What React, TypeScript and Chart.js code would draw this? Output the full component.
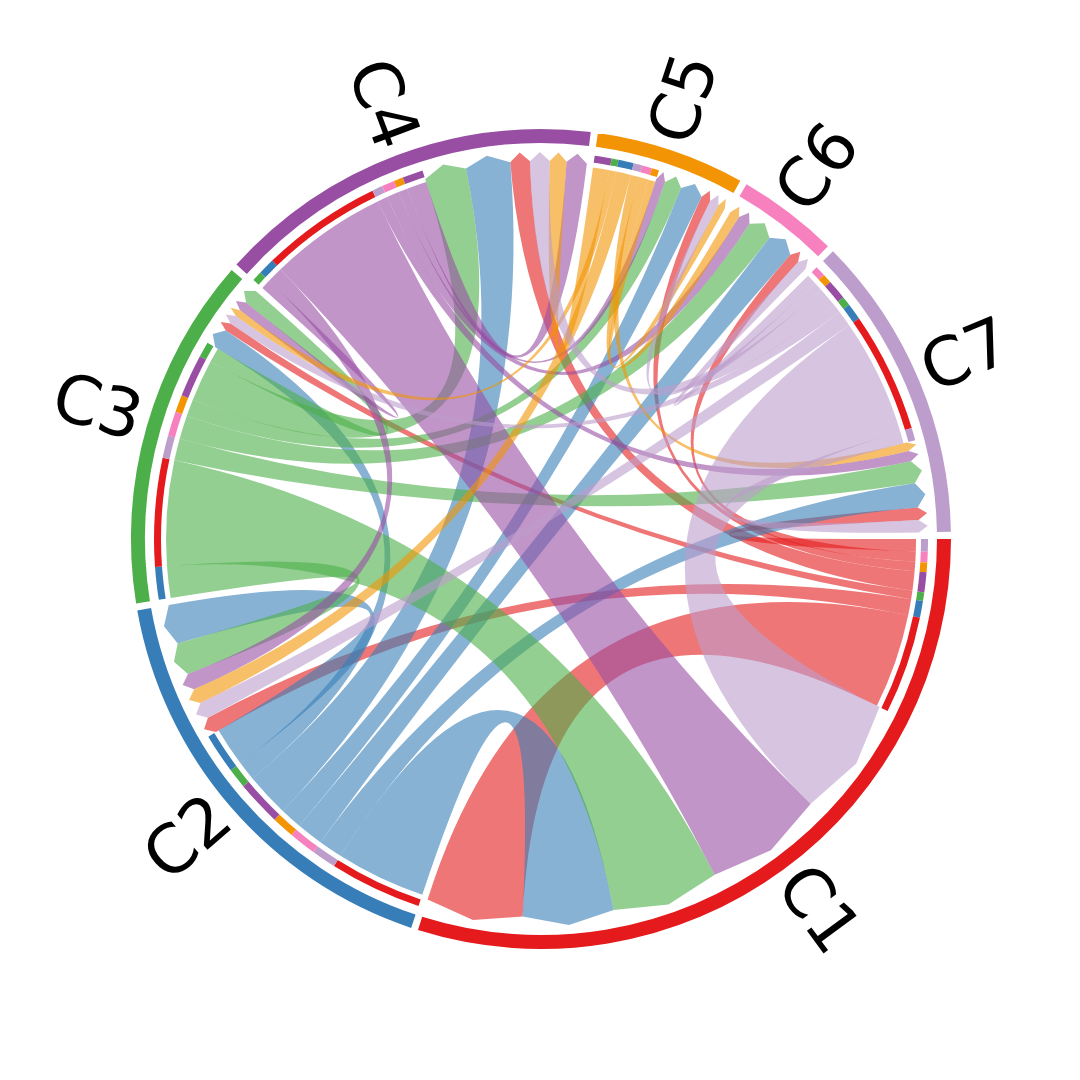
import { useEffect, useRef } from "react";
import { Chart, registerables } from "chart.js";

Chart.register(...registerables);

// ---- data ----
const sectors = ["C1", "C2", "C3", "C4", "C5", "C6", "C7"];
const sectorColors = ["#E41A1C", "#377EB8", "#4DAF4A", "#984EA3", "#F29403", "#F781BF", "#BC9DCC"];

// interaction strength, sender (row) -> receiver (columns C1..C7)
const fromC1 = [14.7, 2.5, 1.3, 3.0, 1.45, 1.6, 1.9];
const fromC2 = [13.9, 6.0, 3.0, 6.8, 3.4, 4.1, 3.7];
const fromC3 = [16.3, 4.9, 2.3, 6.4, 2.6, 3.7, 3.4];
const fromC4 = [18.2, 2.5, 1.5, 3.1, 1.4, 1.9, 1.6];
const fromC5 = [0, 2.3, 1.05, 2.55, 1.1, 1.5, 1.3];
const fromC6 = [0, 0, 0, 0, 0, 0, 0];
const fromC7 = [18.1, 2.5, 1.4, 3.0, 1.4, 1.56, 1.9];
const flows = [fromC1, fromC2, fromC3, fromC4, fromC5, fromC6, fromC7];

const GAP_DEG = 1;
const LINK_ALPHA = 0.6;

// ---- derived tables ----
const n = sectors.length;
const order = (i: number) => Array.from({ length: n }, (_, k) => (i - 1 - k + 2 * n) % n);
const rowSum = flows.map((r) => r.reduce((a, b) => a + b, 0));
const colSum = sectors.map((_, j) => flows.reduce((a, r) => a + r[j], 0));
const sectorTotal = rowSum.map((r, i) => r + colSum[i]);
const grand = sectorTotal.reduce((a, b) => a + b, 0);
const gapValue = (grand * GAP_DEG) / (360 - n * GAP_DEG);
const CLEAR = "rgba(0,0,0,0)";

const ringData: number[] = [];
const ringColors: string[] = [];
const endData: number[] = [];
const endColors: string[] = [];
const outIdx: number[][] = sectors.map(() => new Array(n).fill(-1));
const inIdx: number[][] = sectors.map(() => new Array(n).fill(-1));

for (let i = 0; i < n; i++) {
  ringData.push(sectorTotal[i]);
  ringColors.push(sectorColors[i]);
  ringData.push(gapValue);
  ringColors.push(CLEAR);
  for (const j of order(i)) {
    outIdx[i][j] = endData.length;
    endData.push(flows[i][j]);
    endColors.push(sectorColors[j]);
  }
  for (const k of order(i)) {
    inIdx[k][i] = endData.length;
    endData.push(flows[k][i]);
    endColors.push(CLEAR);
  }
  endData.push(gapValue);
  endColors.push(CLEAR);
}

function hexToRgba(hex: string, a: number) {
  const v = parseInt(hex.slice(1), 16);
  return `rgba(${(v >> 16) & 255},${(v >> 8) & 255},${v & 255},${a})`;
}

const chordPlugin = {
  id: "chordLinks",
  afterDatasetsDraw(chart: any) {
    const ctx = chart.ctx as CanvasRenderingContext2D;
    const ends = chart.getDatasetMeta(2).data as any[];
    const ring = chart.getDatasetMeta(0).data as any[];
    const cx = ends[0].x;
    const cy = ends[0].y;
    const P = (a: number, r: number): [number, number] => [cx + r * Math.cos(a), cy + r * Math.sin(a)];

    ctx.save();
    for (let i = 0; i < n; i++) {
      for (let j = 0; j < n; j++) {
        const v = flows[i][j];
        if (!(v > 0)) continue;
        const s = ends[outIdx[i][j]];
        const t = ends[inIdx[i][j]];
        const a1 = s.startAngle, a2 = s.endAngle;
        const b1 = t.startAngle, b2 = t.endAngle;
        const rOut = s.innerRadius - 5;
        const rBase = s.innerRadius - 2;
        const rTip = s.outerRadius;
        ctx.beginPath();
        const p0 = P(a1, rOut);
        ctx.moveTo(p0[0], p0[1]);
        ctx.arc(cx, cy, rOut, a1, a2, false);
        const pb1 = P(b1, rBase);
        ctx.quadraticCurveTo(cx, cy, pb1[0], pb1[1]);
        const tip = P((b1 + b2) / 2, rTip);
        ctx.lineTo(tip[0], tip[1]);
        const pb2 = P(b2, rBase);
        ctx.lineTo(pb2[0], pb2[1]);
        ctx.quadraticCurveTo(cx, cy, p0[0], p0[1]);
        ctx.closePath();
        ctx.fillStyle = hexToRgba(sectorColors[i], LINK_ALPHA);
        ctx.fill();
      }
    }
    ctx.restore();

    // sector labels
    for (let i = 0; i < n; i++) {
      const arc = ring[2 * i];
      const TWO_PI = Math.PI * 2;
      const m = ((((arc.startAngle + arc.endAngle) / 2) % TWO_PI) + TWO_PI) % TWO_PI;
      const right = Math.cos(m) >= 0;
      const R = arc.outerRadius + 8;
      ctx.save();
      ctx.translate(cx, cy);
      ctx.rotate(right ? m : m + Math.PI);
      ctx.font = '67px "DejaVu Sans"';
      ctx.fillStyle = "#000";
      ctx.textBaseline = "middle";
      ctx.textAlign = right ? "left" : "right";
      ctx.fillText(sectors[i], right ? R : -R, 0);
      ctx.restore();
    }
  },
};

export default function App() {
  const ref = useRef<HTMLCanvasElement | null>(null);
  useEffect(() => {
    if (!ref.current) return;
    const chart = new Chart(ref.current, {
      type: "doughnut",
      data: {
        labels: endData.map((_, k) => String(k)),
        datasets: [
          { data: ringData, backgroundColor: ringColors, borderWidth: 0, weight: 14 } as any,
          { data: [1], backgroundColor: [CLEAR], borderWidth: 0, weight: 9 } as any,
          { data: endData, backgroundColor: endColors, borderWidth: 0, weight: 7 } as any,
        ],
      },
      options: {
        responsive: false,
        maintainAspectRatio: false,
        animation: false,
        events: [],
        rotation: 90,
        circumference: 360,
        radius: 410,
        cutout: `${(380 / 410) * 100}%`,
        layout: { padding: { left: 2, top: 0, right: 0, bottom: 2 } },
        plugins: { legend: { display: false }, tooltip: { enabled: false } },
        elements: { arc: { borderWidth: 0 } },
      } as any,
      plugins: [chordPlugin],
    });
    return () => chart.destroy();
  }, []);
  return (
    <div style={{ position: "absolute", left: 0, top: 0, width: 1080, height: 1080, background: "#fff" }}>
      <canvas ref={ref} width={1080} height={1080} style={{ width: 1080, height: 1080, display: "block" }} />
    </div>
  );
}
